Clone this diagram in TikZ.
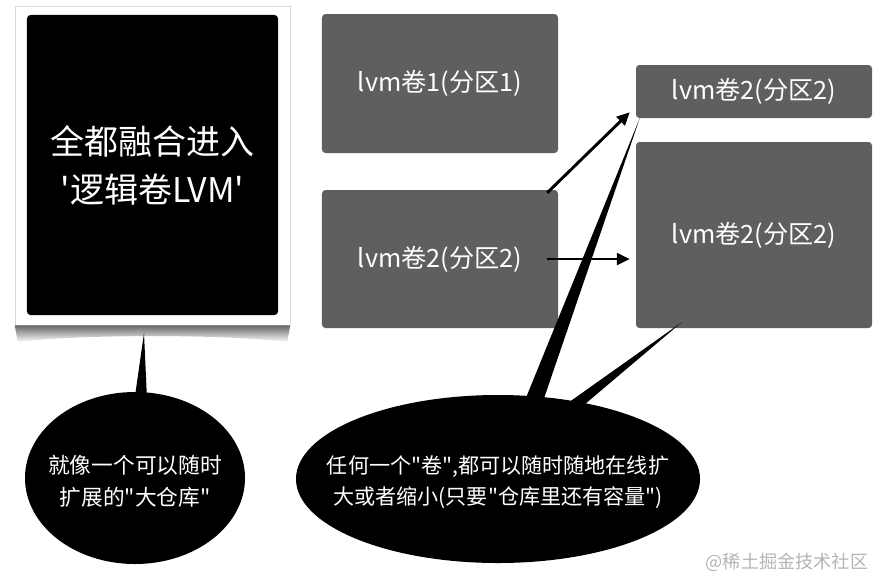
\documentclass[tikz,border=0pt]{standalone}
\usepackage{fontspec}
\setmainfont{Noto Sans CJK SC}
\usepackage{xcolor}
\usepackage{tikz}
\usetikzlibrary{arrows.meta,shapes.geometric}
\definecolor{slate}{HTML}{5F5F5F}
\definecolor{wm}{HTML}{B4B4B4}
\newcommand{\dq}{\textquotedbl}

\begin{document}
\begin{tikzpicture}[x=0.03cm, y=-0.03cm,
    every node/.style={text=white, align=center, inner sep=0pt},
    vol/.style={fill=slate, rounded corners=3pt, minimum width=7.08cm, font=\fontsize{21.5}{26}\selectfont},
    bubble/.style={ellipse, fill=black},
    note/.style={font=\fontsize{18.5}{27}\selectfont},
    arrow/.style={-{Triangle[length=11pt, width=10pt]}, line width=2.5pt}
]
\useasboundingbox (0,0) rectangle (873,577);
\node[fill=white, draw=black!15, minimum width=8.25cm, minimum height=9.57cm] (frame) at (152.5, 165.5) {};
\shade[top color=black!60, bottom color=white] (frame.south west) -- (frame.south east) -- ++(-3,17) .. controls (230,334) and (75,334) .. ([shift={(3,17)}]frame.south west) -- cycle;
\node[fill=black, rounded corners=3pt, minimum width=7.53cm, minimum height=9cm, font=\fontsize{29}{41}\selectfont] (fuse) at (152.5, 165) {全都融合进入\\\textquotesingle 逻辑卷LVM\textquotesingle};
\node[vol, minimum height=4.17cm] (vol1) at (440, 83.5) {lvm卷1(分区1)};
\node[vol, minimum height=4.14cm] (vol2) at (440, 259) {lvm卷2(分区2)};
\node[vol, minimum height=1.59cm] (vol2a) at (754, 91.5) {lvm卷2(分区2)};
\node[vol, minimum height=5.58cm] (vol2b) at (754, 235) {lvm卷2(分区2)};
\coordinate (tipL) at ([shift={(-8.5,8)}]frame.south);
\coordinate (tipA) at ([shift={(4,0)}]vol2a.south west);
\coordinate (tipB) at ([shift={(46,-6)}]vol2b.south west);
\fill (133,410) -- (tipL) -- (147.5,410) -- cycle;
\fill (521,410) -- (tipA) -- (540,410) -- cycle;
\fill (558,410) -- (tipB) -- (578,410) -- cycle;
\node[bubble, minimum width=6.6cm, minimum height=5.16cm] (bubL) at (135, 478) {};
\node[bubble, minimum width=12.12cm, minimum height=5.04cm] (bubR) at (498, 479) {};
\node[note] (noteL) at ([yshift=-0.09cm]bubL.center) {就像一个可以随时\\扩展的\dq 大仓库\dq};
\node[note, font=\fontsize{18}{27}\selectfont] (noteR) at ([yshift=-0.09cm]bubR.center) {任何一个\dq 卷\dq,都可以随时随地在线扩\\大或者缩小(只要\dq 仓库里还有容量\dq)};
\coordinate (hit) at (vol2.east -| vol2b.west);
\draw[arrow] ([shift={(-11,3)}]vol2.north east) -- ([shift={(-6,-6)}]vol2a.south west);
\draw[arrow] ([shift={(-11,0)}]vol2.east) -- ([shift={(-6,0)}]hit);
\node[text=wm, font=\fontsize{15.5}{18}\selectfont] (mark) at (787, 562) {@稀土掘金技术社区};
\end{tikzpicture}
\end{document}
